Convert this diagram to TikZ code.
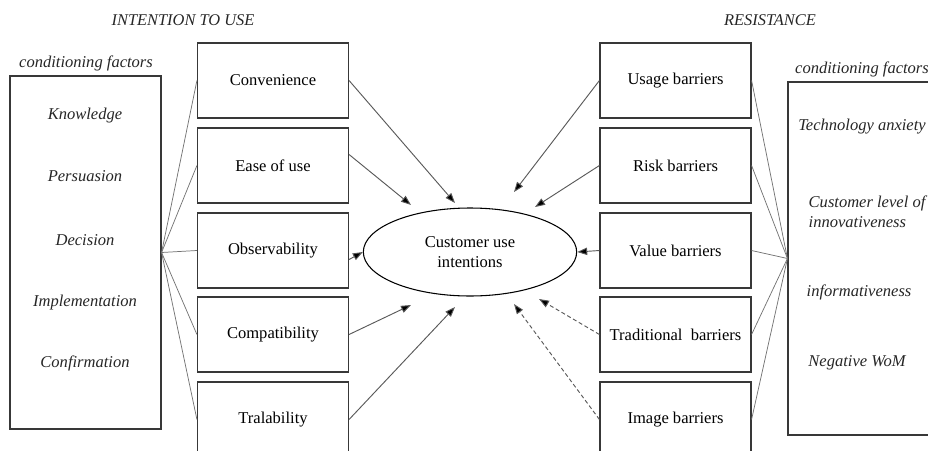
\documentclass[tikz,border=0pt]{standalone}
\usepackage{fontspec}
\setmainfont{Liberation Serif}
\usetikzlibrary{shapes.geometric,arrows.meta,calc}
\begin{document}
\begin{tikzpicture}[x=0.75pt,y=-0.75pt,
  every node/.style={font=\fontsize{12.4}{15}\selectfont},
  box/.style={draw=black!78, line width=1.1pt, minimum width=113pt, minimum height=56pt, inner sep=0pt},
  condbox/.style={draw=black!78, line width=1.1pt, minimum width=113pt, minimum height=265pt, inner sep=0pt},
  lbl/.style={font=\fontsize{12.4}{15}\selectfont\itshape, text=black!85},
  hdr/.style={font=\fontsize{12.3}{14}\selectfont\itshape, text=black!85},
  fan/.style={draw=black!55, line width=0.55pt},
  arr/.style={draw=black!65, line width=0.7pt, -{Triangle[length=7.5pt,width=5.5pt,fill=black]}},
  darr/.style={arr, dash pattern=on 3pt off 2pt}
]
\useasboundingbox (0,0) rectangle (928,450);

% headers
\node[hdr] (h1) at (183,20) {INTENTION TO USE};
\node[hdr] (h2) at (770,20) {RESISTANCE};

% left conditioning box
\node[lbl] (lcl) at (86,63) {conditioning factors};
\node[condbox] (lc) at (85.5,252.5) {};
\node[lbl] (k1) at (85,116) {Knowledge};
\node[lbl] (k2) at (85,176) {Persuasion};
\node[lbl] (k3) at (85,240) {Decision};
\node[lbl] (k4) at (85,303) {Implementation};
\node[lbl] (k5) at (85,363) {Confirmation};

% right conditioning box
\node[lbl] (rcl) at (862,69) {conditioning factors};
\node[condbox] (rc) at (863.5,258.5) {};
\node[lbl] (q1) at (862,127) {Technology anxiety};
\node[lbl, align=left, anchor=west] (q2) at (804,212) {Customer level of\\innovativeness};
\node[lbl] (q3) at (859,292) {informativeness};
\node[lbl] (q4) at (857,363) {Negative WoM};

% left boxes
\node[box] (b1) at (273,80.5) {Convenience};
\node[box] (b2) at (273,165.5) {Ease of use};
\node[box] (b3) at (273,250.5) {Observability};
\node[box] (b4) at (273,334.5) {Compatibility};
\node[box] (b5) at (273,419.5) {Tralability};

% right boxes
\node[box] (r1) at (675.5,80.5) {Usage barriers};
\node[box] (r2) at (675.5,165.5) {Risk barriers};
\node[box] (r3) at (675.5,250.5) {Value barriers};
\node[box] (r4) at (675.5,334.5) {Traditional\ \ barriers};
\node[box] (r5) at (675.5,419.5) {Image barriers};

% ellipse
\node[ellipse, draw=black, line width=0.8pt, minimum width=160pt, minimum height=66pt, inner sep=0pt, align=center] (ell) at (470,252) {Customer use\\intentions};

% fans
\foreach \b in {b1,b2,b3,b4,b5} \draw[fan] (lc.east) -- (\b.west);
\foreach \b in {r1,r2,r3,r4,r5} \draw[fan] (rc.west) -- (\b.east);

% target coordinates around the ellipse
\coordinate (t1) at ($(ell.center)+(-15,-49)$);
\coordinate (t2) at ($(ell.center)+(-59,-47)$);
\coordinate (t4) at ($(ell.center)+(-59,53)$);
\coordinate (t5) at ($(ell.center)+(-15,55)$);
\coordinate (u1) at ($(ell.center)+(44,-60)$);
\coordinate (u2) at ($(ell.center)+(65,-45)$);
\coordinate (u4) at ($(ell.center)+(69,47)$);
\coordinate (u5) at ($(ell.center)+(44,52)$);
\coordinate (s2) at ($(b2.east)+(0,-11)$);
\coordinate (s3) at ($(b3.east)+(0,9)$);

% arrows
\draw[arr] (b1.east) -- (t1);
\draw[arr] (s2) -- (t2);
\draw[arr] (s3) -- (ell.west);
\draw[arr] (b4.east) -- (t4);
\draw[arr] (b5.east) -- (t5);
\draw[arr] (r1.west) -- (u1);
\draw[arr] (r2.west) -- (u2);
\draw[arr] (r3.west) -- (ell.east);
\draw[darr] (r4.west) -- (u4);
\draw[darr] (r5.west) -- (u5);
\end{tikzpicture}
\end{document}
